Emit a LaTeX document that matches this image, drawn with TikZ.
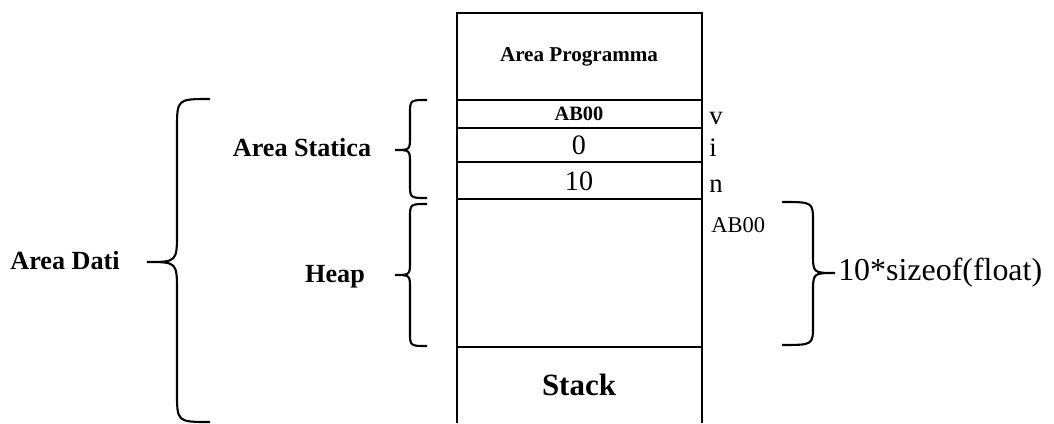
\documentclass[tikz,border=0pt]{standalone}
\usepackage{fontspec}
\setmainfont{Liberation Serif}

% curly brace: end x, spine x, tip x, top y, tip y, bottom y, bend
\newcommand{\curlybrace}[7]{%
  \draw[brace line] (#1,#4) .. controls (#2,#4) .. (#2,#4+#7)
    -- (#2,#5-#7) .. controls (#2,#5) .. (#3,#5)
    .. controls (#2,#5) .. (#2,#5+#7)
    -- (#2,#6-#7) .. controls (#2,#6) .. (#1,#6);}

\tikzset{
  cell line/.style={black, line width=1.7pt},
  brace line/.style={black, line width=1.5pt},
  bold label/.style={font=\fontsize{#1}{#1}\selectfont\bfseries, inner sep=0pt},
  plain label/.style={font=\fontsize{#1}{#1}\selectfont, inner sep=0pt},
}

\begin{document}
\begin{tikzpicture}[x=0.025cm, y=-0.025cm]
		\useasboundingbox (0,0) rectangle (1054,423);

		% memory column
		\draw[cell line] (457,423) -- (457,13) -- (702,13) -- (702,423);
		\draw[cell line] (457,100) -- (702,100);
		\draw[cell line] (457,128) -- (702,128);
		\draw[cell line] (457,162) -- (702,162);
		\draw[cell line] (457,199) -- (702,199);
		\draw[cell line] (457,347) -- (702,347);

		% cell contents
		\node[bold label=15] (prog) at (579,57) {Area Programma};
		\node[bold label=14.5] (cellv) at (579,114) {AB00};
		\node[plain label=20] (celli) at (579,145) {0};
		\node[plain label=20] (celln) at (579,181) {10};
		\node[bold label=22] (stack) at (579,385) {Stack};

		% variable names
		\node[plain label=19, anchor=base west] (namev) at (709,124) {v};
		\node[plain label=19, anchor=base west] (namei) at (709,156) {i};
		\node[plain label=19, anchor=base west] (namen) at (709,192) {n};
		\node[plain label=16, anchor=base west] (heapaddr) at (711,232) {AB00};

		% braces
		\curlybrace{210}{177}{147}{99}{262}{422}{30}
		\curlybrace{427}{410}{395}{100}{150}{198}{14}
		\curlybrace{427}{410}{395}{204}{275}{346}{14}
		\curlybrace{782}{813}{835}{202}{273}{345}{20}

		\node[bold label=18.6] (dati) at (65,261) {Area Dati};
		\node[bold label=18.6] (statica) at (302,148) {Area Statica};
		\node[bold label=18.6] (heap) at (335,277) {Heap};
		\node[plain label=22.7, anchor=west] (size) at (838,273) {10*sizeof(float)};

	\end{tikzpicture}
\end{document}
